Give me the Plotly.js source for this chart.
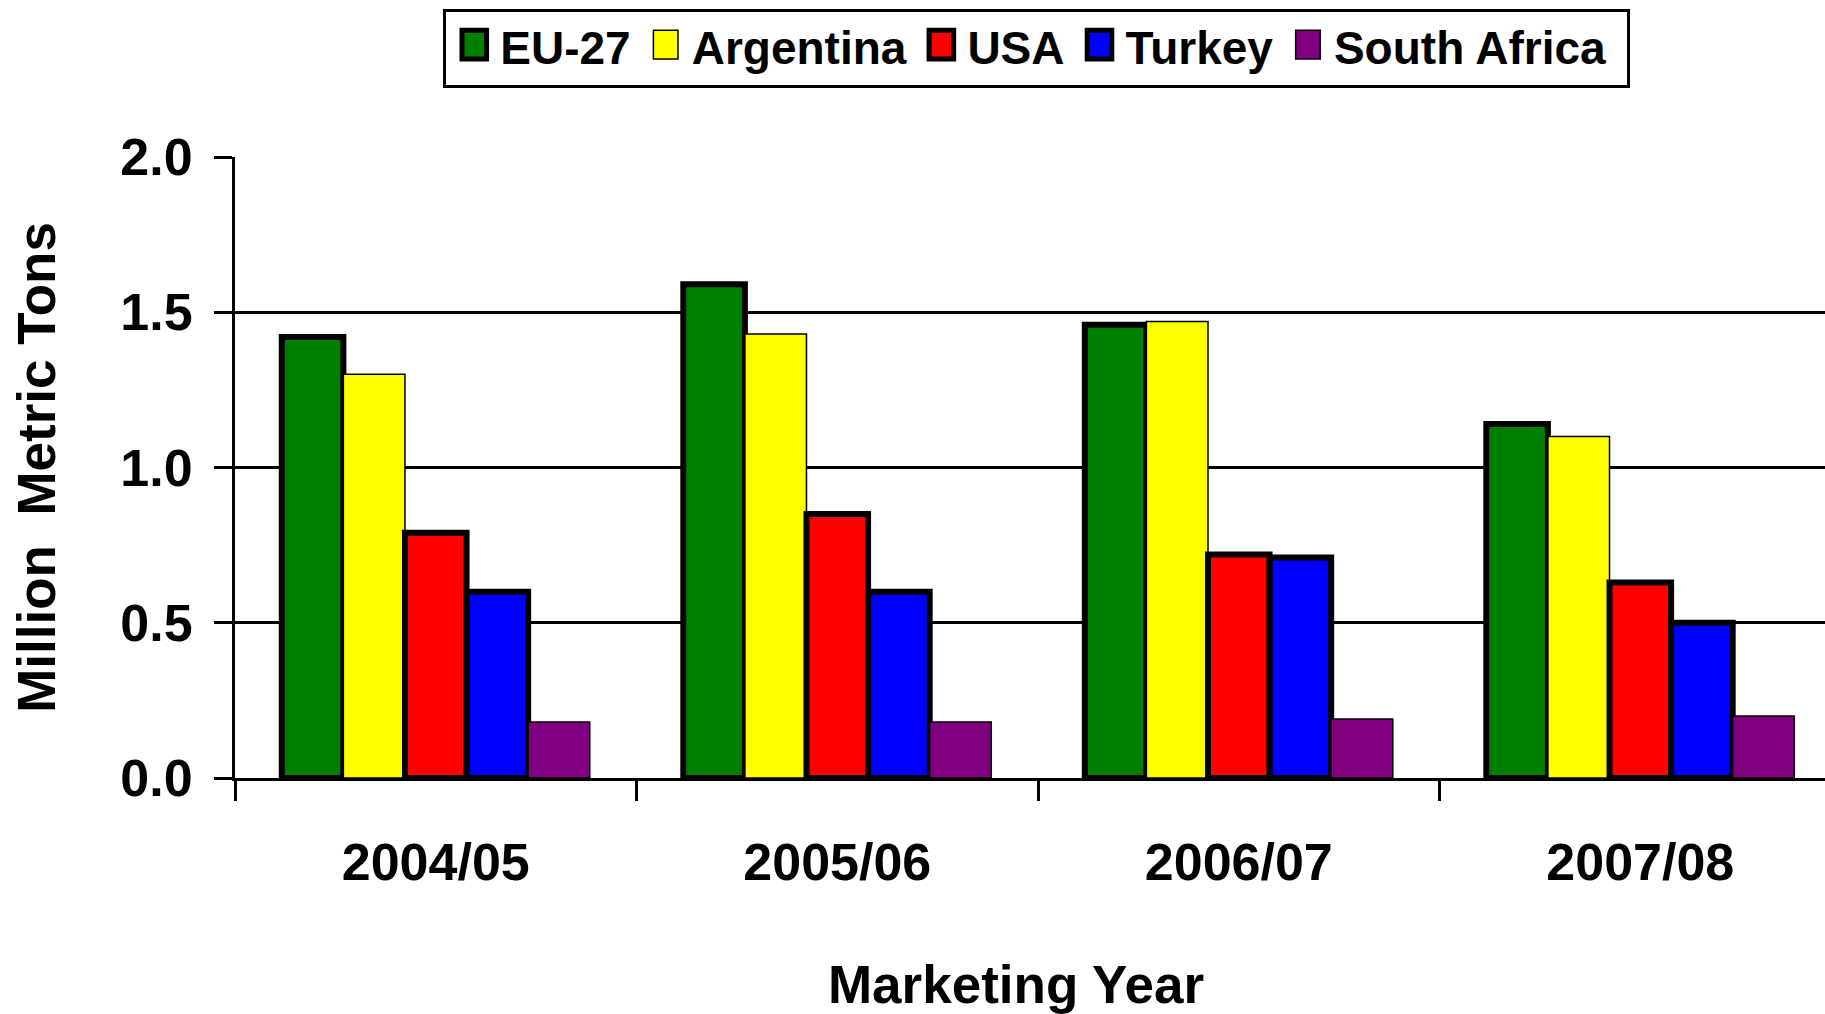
<!DOCTYPE html>
<html>
<head>
<meta charset="utf-8">
<script src="https://cdn.plot.ly/plotly-3.0.1.min.js"></script>
<style>html,body{margin:0;padding:0;background:#fff;}#chart{width:1825px;height:1014px;}</style>
</head>
<body>
<div id="chart"></div>
<script>
const years = ["2004/05", "2005/06", "2006/07", "2007/08"];
const seriesNames = ["EU-27", "Argentina", "USA", "Turkey", "South Africa"];
const eu27 = [1.42, 1.59, 1.46, 1.14];
const argentina = [1.30, 1.43, 1.47, 1.10];
const usa = [0.79, 0.85, 0.72, 0.63];
const turkey = [0.60, 0.60, 0.71, 0.50];
const southAfrica = [0.18, 0.18, 0.19, 0.20];
const yTicks = [0, 0.5, 1.0, 1.5, 2.0];

const colors = ["#008000", "#FFFF00", "#FF0000", "#0000FF", "#800080"];
const outlineW = [6, 1.5, 6, 6, 1.5];
const values = [eu27, argentina, usa, turkey, southAfrica];

const FONT = "Liberation Sans, Arial, Helvetica, sans-serif";

const traces = values.map((v, i) => ({
  type: "bar",
  name: seriesNames[i],
  x: years,
  y: v,
  marker: {color: colors[i], line: {color: "#000", width: outlineW[i]}},
  hoverinfo: "skip"
}));

const layout = {
  width: 1825, height: 1014,
  margin: {l: 235, r: 0, t: 157, b: 236, pad: 0},
  paper_bgcolor: "#fff", plot_bgcolor: "#fff",
  barmode: "group", bargap: 0.233, bargroupgap: 0,
  font: {family: FONT, color: "#000", size: 50, weight: "bold"},
  showlegend: true,
  legend: {
    orientation: "h", x: 0.503, xanchor: "center", y: 1.238, yanchor: "top",
    bgcolor: "#fff", bordercolor: "#000", borderwidth: 3,
    font: {family: FONT, size: 46, color: "#000", weight: "bold"},
    traceorder: "normal"
  },
  xaxis: {
    type: "category",
    range: [-0.5, 3.46],
    tickson: "boundaries",
    ticks: "outside", ticklen: 20, tickwidth: 3, tickcolor: "#000",
    showline: true, linecolor: "#000", linewidth: 3,
    showgrid: false, zeroline: false,
    ticklabelstandoff: 37,
    tickfont: {family: FONT, size: 52, weight: "bold", color: "#000"},
    title: {text: "Marketing Year", font: {family: FONT, size: 53, weight: "bold", color: "#000"}, standoff: 76}
  },
  yaxis: {
    range: [0, 2.0],
    tickvals: yTicks,
    tickformat: ".1f",
    ticks: "outside", ticklen: 18, tickwidth: 3, tickcolor: "#000",
    showline: true, linecolor: "#000", linewidth: 3,
    showgrid: true, gridcolor: "#000", gridwidth: 3,
    zeroline: false,
    ticklabelstandoff: 11,
    tickfont: {family: FONT, size: 52, weight: "bold", color: "#000"},
    title: {text: "Million  Metric Tons", font: {family: FONT, size: 53, weight: "bold", color: "#000"}, standoff: 48}
  }
};

function restyleLegend(gd) {
  const leg = gd.querySelector(".legend");
  if (!leg) return;
  const sb = leg.querySelector(".scrollbox");
  if (sb) sb.removeAttribute("clip-path");
  const items = Array.from(leg.querySelectorAll("g.traces"));
  const padL = 16, swW = 30, swGap = 11, itemGap = 20, padR = 21;
  let x = padL;
  let y0 = null;
  items.forEach(function (it) {
    const m = /translate\(([-\d.e]+)[ ,]+([-\d.e]+)\)/.exec(it.getAttribute("transform") || "");
    if (y0 === null) y0 = (m ? parseFloat(m[2]) : 0) - 3;
    const txt = it.querySelector("text.legendtext");
    const tw = txt ? txt.getComputedTextLength() : 0;
    const ox = x + swW + swGap - 40;
    it.setAttribute("transform", "translate(" + ox + "," + y0 + ")");
    it.querySelectorAll(".legendpoints path").forEach(function (p) {
      const cx = 40 - swGap - swW / 2;
      p.setAttribute("transform", "translate(" + cx + ",-1) scale(2.05,2.4)");
      p.style.vectorEffect = "non-scaling-stroke";
    });
    x += swW + swGap + tw + itemGap;
  });
  const total = x - itemGap + padR;
  const bg = leg.querySelector("rect.bg");
  if (bg) bg.setAttribute("width", total);
  const lm = /translate\(([-\d.e]+)[ ,]+([-\d.e]+)\)/.exec(leg.getAttribute("transform") || "");
  const ly = lm ? parseFloat(lm[2]) : 0;
  leg.setAttribute("transform", "translate(" + (1035 - total / 2) + "," + ly + ")");
}

Plotly.newPlot("chart", traces, layout, {staticPlot: true, displayModeBar: false}).then(function (gd) {
  restyleLegend(gd);
  const xt = gd.querySelector(".g-xtitle text");
  if (xt) {
    const xv = parseFloat(xt.getAttribute("x"));
    xt.setAttribute("x", xv - 14);
  }
});
</script>
</body>
</html>
